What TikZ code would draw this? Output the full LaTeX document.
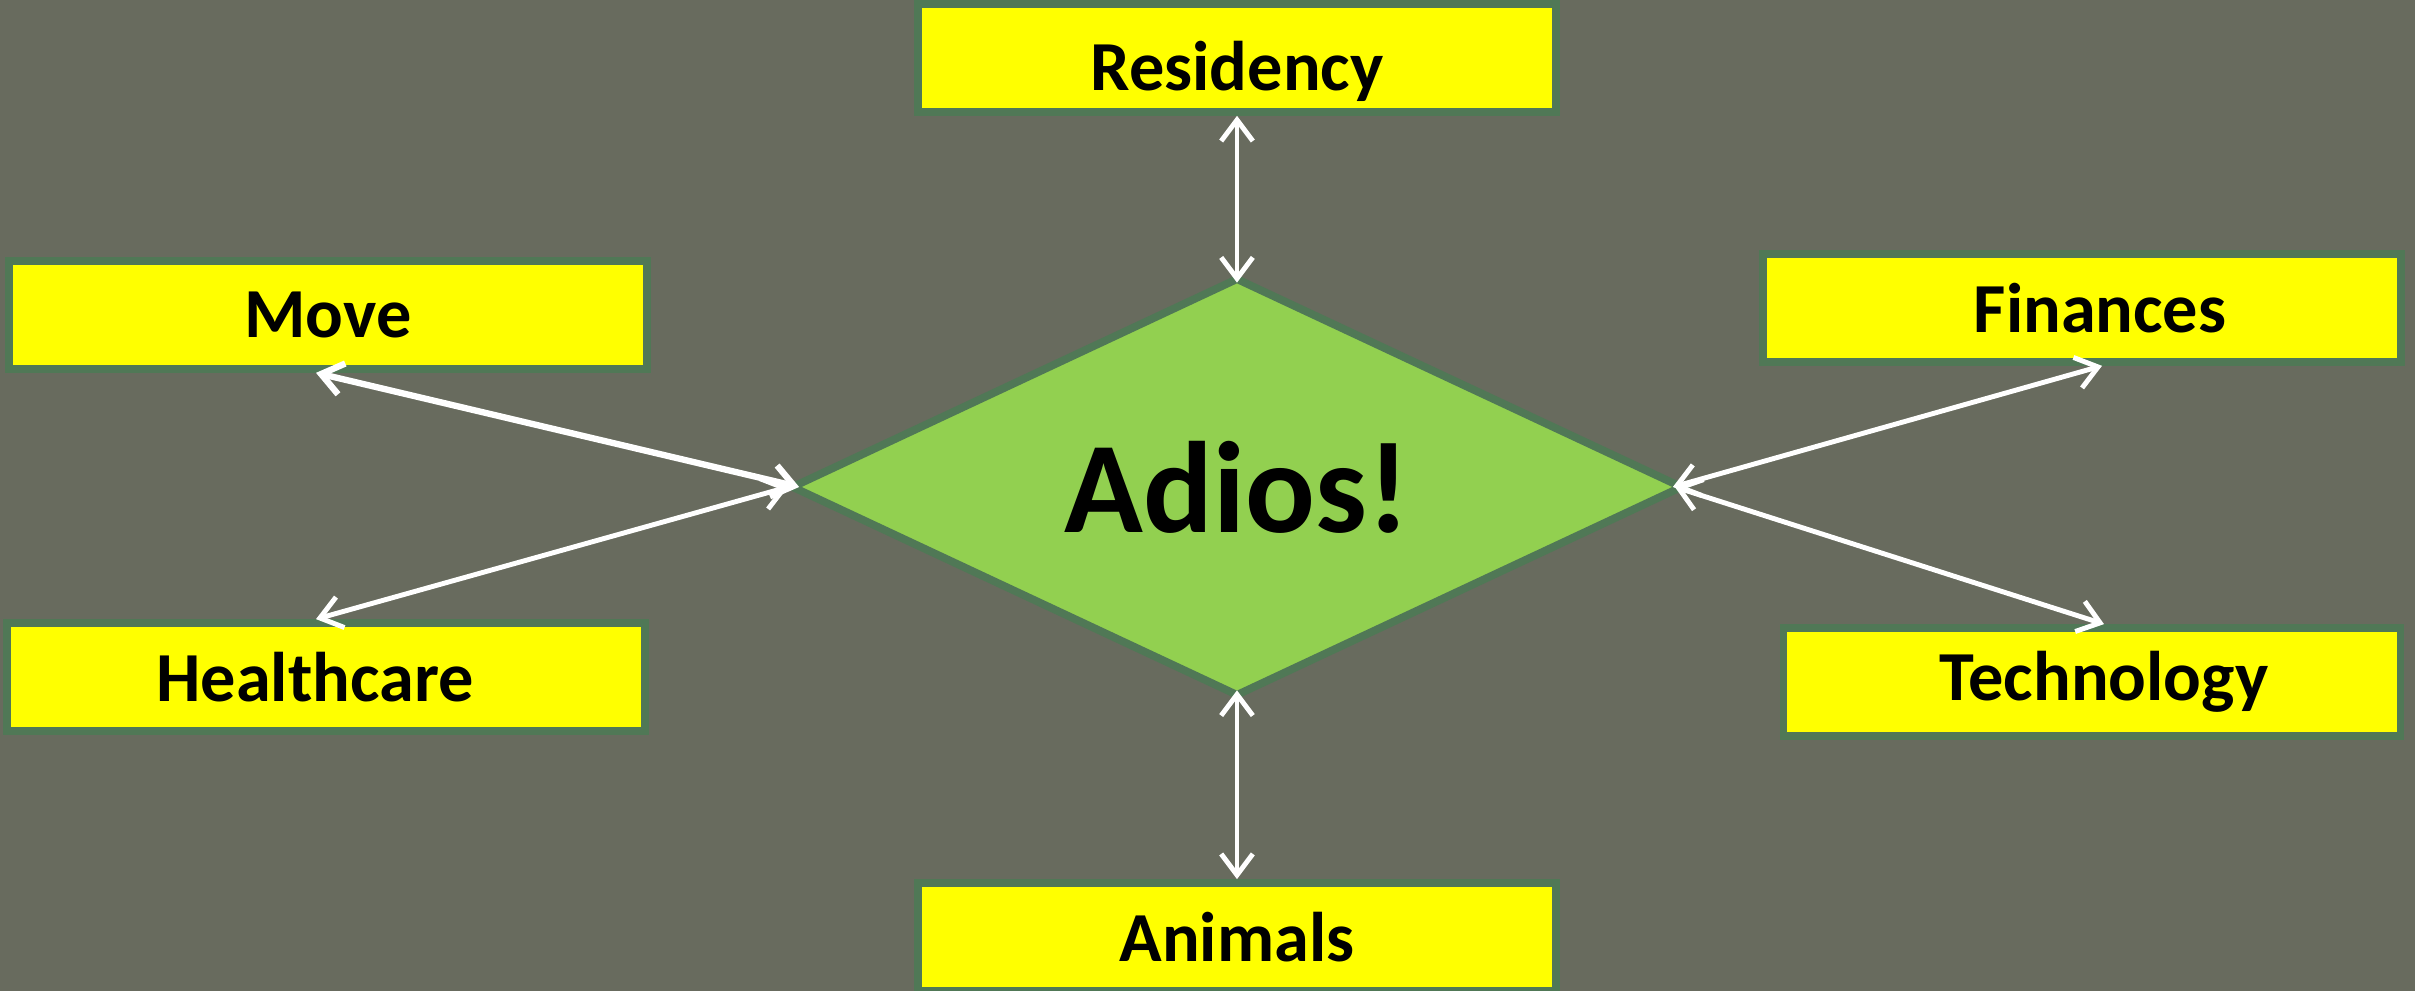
\documentclass[tikz,border=0pt]{standalone}
\usepackage{fontspec}
\setmainfont{Carlito}
\usepackage{xcolor}
\usetikzlibrary{shapes.geometric,arrows.meta}
\definecolor{slate}{RGB}{104,107,94}
\definecolor{boxline}{RGB}{80,120,86}
\definecolor{hubgreen}{RGB}{146,208,80}
\definecolor{boxfill}{RGB}{255,255,0}

\begin{document}
\begin{tikzpicture}[>={Straight Barb[length=6pt,width=9pt]}]
\tikzset{
    topic/.style={%
        draw=boxline, line width=2.2pt,
        fill=boxfill,
        rectangle,
        minimum height=1.08cm,
        minimum width=6.38cm,
        font=\fontsize{20}{24}\selectfont\bfseries
        },
    hub/.style={%
        draw=boxline, line width=2.2pt,
        fill=hubgreen,
        diamond, aspect=2.14, inner sep=0.1cm,
        minimum width=8.92cm,
        minimum height=4.19cm,
        font=\fontsize{37}{44}\selectfont\bfseries
        },
    link/.style={<->, white, line width=1.4pt},
}
%%%BACKGROUND
\fill[slate] (0,0) rectangle (24.15,9.91);
\useasboundingbox (0,0) rectangle (24.15,9.91);
%%%HUB
\node[hub] (adios) at (12.37,5.04) {Adios!};
%%%TOPICS
\node[topic, text height=0.65cm, text depth=0pt] (res) at (12.37,9.33) {Residency};
\node[topic] (move)   at (3.28,6.76)  {Move};
\node[topic] (health) at (3.26,3.14)  {Healthcare\kern0.22cm};
\node[topic] (fin)    at (20.82,6.83) {\hspace{0.36cm}Finances};
\node[topic, minimum width=6.17cm] (tech) at (20.92,3.09) {\hspace{0.24cm}Technology};
\node[topic] (anim)   at (12.37,0.54) {Animals};
%%%LINKS
\draw[link] (res.south) -- ([yshift=-0.09cm]adios.north);
\draw[link] (anim.north) -- ([yshift=0.1cm]adios.south);
\draw[link, line width=1.8pt] ([xshift=-0.12cm]move.south) -- ([xshift=0.12cm]adios.west);
\draw[link] ([xshift=-0.1cm]health.north) -- ([xshift=0.01cm]adios.west);
\draw[link] ([xshift=0.2cm]fin.south) -- ([xshift=-0.14cm]adios.east);
\draw[link] ([xshift=0.12cm]tech.north) -- ([xshift=-0.12cm]adios.east);
\end{tikzpicture}
\end{document}
